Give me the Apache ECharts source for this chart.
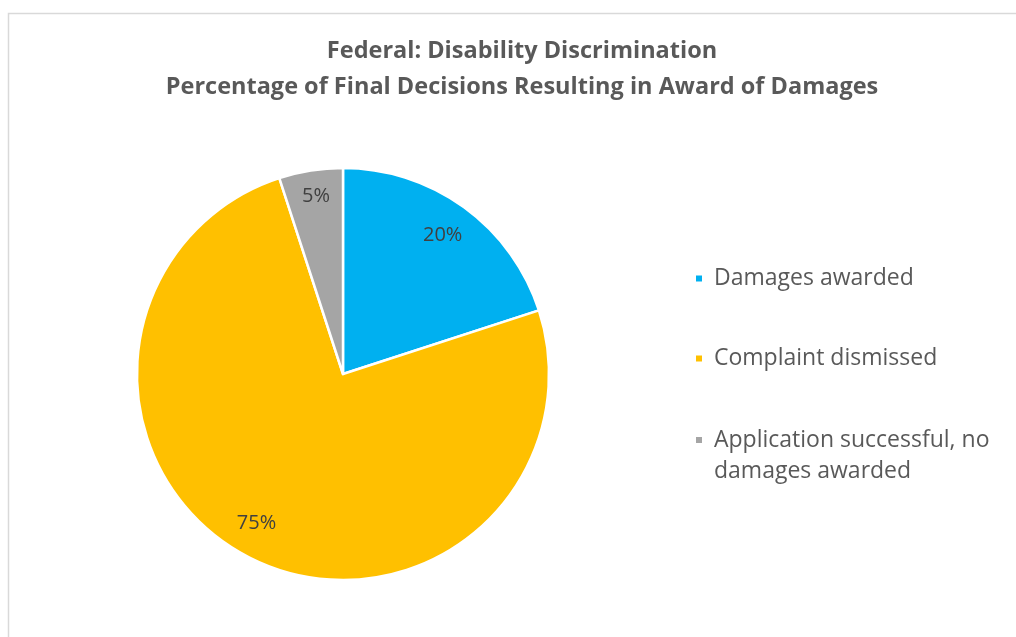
<!DOCTYPE html>
<html>
<head>
<meta charset="utf-8">
<script src="https://cdn.jsdelivr.net/npm/echarts@6/dist/echarts.min.js"></script>
<style>
  html, body { margin: 0; padding: 0; background: #ffffff; }
  #chart { width: 1016px; height: 637px; }
</style>
</head>
<body>
<div id="chart"></div>
<script>
// Outcome categories and their share of final decisions (percent)
const categories = ['Damages awarded', 'Complaint dismissed', 'Application successful, no damages awarded'];
const shares = [20, 75, 5];
const colors = ['#00B0F0', '#FFC000', '#A5A5A5'];
const titleLines = ['Federal: Disability Discrimination', 'Percentage of Final Decisions Resulting in Award of Damages'];

const FONT = '"Open Sans", "Liberation Sans", sans-serif';
const CX = 343, CY = 374, R = 206;

// small nudges for the percentage labels, per slice
const labelNudge = [[-2, 1], [-8, -5], [0, -7]];

const pieData = categories.map((name, i) => ({
  name,
  value: shares[i],
  itemStyle: { color: colors[i] }
}));

const chart = echarts.init(document.getElementById('chart'), null, { renderer: 'canvas' });

const legendText = {
  color: '#595959',
  fontFamily: FONT,
  fontSize: 23,
  lineHeight: 31,
  rich: {
    // fixed spacer between the colour swatch and the label
    s: { width: 6, fontSize: 23, lineHeight: 31 }
  }
};

chart.setOption({
  backgroundColor: '#ffffff',
  animation: false,
  title: {
    text: titleLines.join('\n'),
    left: 517,
    top: 28,
    textAlign: 'center',
    textStyle: {
      color: '#595959',
      fontFamily: FONT,
      fontWeight: 'bold',
      fontSize: 23.5,
      lineHeight: 36
    }
  },
  graphic: [{
    type: 'rect',
    shape: { x: 8.5, y: 13.5, width: 1040, height: 660 },
    style: { fill: 'none', stroke: '#d9d9d9', lineWidth: 1.5 },
    silent: true,
    z: -1
  }],
  legend: [{
    orient: 'vertical',
    left: 694,
    top: 263,
    padding: 0,
    itemWidth: 8,
    itemHeight: 8,
    itemGap: 49,
    icon: 'rect',
    formatter: name => '{s| }' + name,
    textStyle: legendText,
    data: categories.slice(0, 2)
  }, {
    // long label wraps; the swatch sits beside its first line
    orient: 'vertical',
    left: 694,
    top: 393.5,
    padding: 0,
    itemWidth: 8,
    itemHeight: 8,
    icon: 'rect',
    formatter: name => '{s| }\u00a0\n' + name.replace(', no ', ', no\n').split('\n').map(l => '{s| }' + l).join('\n'),
    textStyle: legendText,
    data: categories.slice(2)
  }],
  series: [{
    // the slices
    type: 'pie',
    center: [CX, CY],
    radius: [0, R],
    startAngle: 90,
    clockwise: true,
    data: pieData,
    itemStyle: { borderColor: '#ffffff', borderWidth: 2.5 },
    label: { show: false },
    labelLine: { show: false },
    emphasis: { disabled: true }
  }, {
    // percentage labels placed on an outer ring of the same slices
    type: 'pie',
    center: [CX, CY],
    radius: [134, R],
    startAngle: 90,
    clockwise: true,
    silent: true,
    legendHoverLink: false,
    data: pieData.map((d, i) => ({
      name: d.name,
      value: d.value,
      label: { offset: labelNudge[i] }
    })),
    itemStyle: { color: 'rgba(0,0,0,0)', borderWidth: 0 },
    label: {
      show: true,
      position: 'inside',
      formatter: p => p.value + '%',
      color: '#404040',
      fontFamily: FONT,
      fontSize: 20
    },
    labelLine: { show: false },
    emphasis: { disabled: true }
  }]
});
</script>
</body>
</html>
